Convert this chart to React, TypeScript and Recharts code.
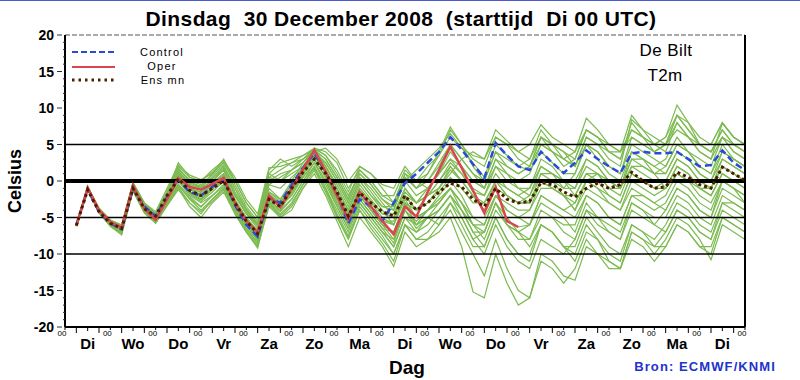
import { Line, LineChart, ReferenceLine, XAxis, YAxis } from 'recharts';

const HOURS = [6, 12, 18, 24, 30, 36, 42, 48, 54, 60, 66, 72, 78, 84, 90, 96, 102, 108, 114, 120, 126, 132, 138, 144, 150, 156, 162, 168, 174, 180, 186, 192, 198, 204, 210, 216, 222, 228, 234, 240, 246, 252, 258, 264, 270, 276, 282, 288, 294, 300, 306, 312, 318, 324, 330, 336, 342, 348, 354, 360];
const X_TICKS = [0, 6, 12, 18, 24, 30, 36, 42, 48, 54, 60, 66, 72, 78, 84, 90, 96, 102, 108, 114, 120, 126, 132, 138, 144, 150, 156, 162, 168, 174, 180, 186, 192, 198, 204, 210, 216, 222, 228, 234, 240, 246, 252, 258, 264, 270, 276, 282, 288, 294, 300, 306, 312, 318, 324, 330, 336, 342, 348, 354, 360];
const DAY_NAMES = ['Di', 'Wo', 'Do', 'Vr', 'Za', 'Zo', 'Ma', 'Di', 'Wo', 'Do', 'Vr', 'Za', 'Zo', 'Ma', 'Di'];
const Y_TICKS = [-20, -19, -18, -17, -16, -15, -14, -13, -12, -11, -10, -9, -8, -7, -6, -5, -4, -3, -2, -1, 0, 1, 2, 3, 4, 5, 6, 7, 8, 9, 10, 11, 12, 13, 14, 15, 16, 17, 18, 19, 20];

const OPER = [
  -6.2, -0.9, -4.0, -5.6, -6.4, -0.6, -3.8, -5.3, -2.5, 0.4, -0.8, -1.2,
  -0.4, 0.4, -3.0, -5.5, -7.0, -2.0, -3.6, -1.0,
  1.6, 4.2, 1.3, -2.0, -5.2, -1.5, -3.5, -5.5,
  -7.3, -3.5, -4.9, -1.5, 1.5, 4.7, 1.8, -1.3,
  -4.4, -0.8, -5.5, -6.3,
];
const CONTROL = [
  -6.0, -1.2, -4.2, -5.8, -6.6, -1.0, -3.5, -4.8, -2.2, 0.2, -1.5, -2.0,
  -0.8, 0.3, -3.3, -6.0, -7.6, -2.3, -3.0, -0.5,
  1.8, 3.8, 1.2, -1.8, -5.8, -2.5, -3.5, -5.5,
  -3.0, -0.3, 1.0, 2.5, 4.0, 6.0, 4.3, 2.3,
  0.4, 5.2, 3.5, 2.0, 1.5, 4.0, 2.5, 1.1,
  2.5, 4.2, 3.0, 2.0, 1.1, 3.8, 4.0, 3.8,
  3.8, 4.0, 3.0, 2.0, 2.2, 4.2, 2.5, 1.5,
];
const ENS_MEAN = [
  -6.1, -1.2, -4.2, -5.8, -6.5, -1.0, -3.8, -4.8, -2.0, 0.3, -1.3, -2.0,
  -1.0, 0.0, -3.0, -5.5, -7.2, -2.5, -3.5, -1.0,
  1.2, 3.0, 1.0, -1.5, -4.8, -1.6, -3.0, -4.2,
  -4.8, -2.0, -4.0, -3.0, -1.5, -0.3, -0.8, -2.5,
  -3.5, -1.0, -2.5, -3.0, -2.8, -0.2, -0.5, -1.5,
  -2.2, -1.0, -0.3, -1.0, -0.5, 1.2, 0.0, -1.0,
  -0.8, 1.2, 0.5, -0.5, -1.0, 1.9, 1.0, 0.1,
];

// ensemble members (a subset of the plume)
const M01 = [-6, -1, -4, -5.5, -6.3, -0.5, -3.5, -5, -2, 1, -0.5, -1, 0, 1.5, -2, -4.5, -6, -1, -2.5, 0, 2.5, 4.5, 2, -1, -4, 0, -2, -3.5, -4, 0, 1.5, 3, 4.5, 6.5, 4.5, 2.5, 0.5, 5, 3.5, 2, 1.5, 4, 2.5, 1, 1, 5, 3, 1, 0, 4, 3, 2, 3, 6, 4, 2, 1, 5, 3, 2];
const M02 = [-6, -1, -4.2, -5.8, -6.6, -1, -4, -5.4, -2.8, 0, -1.5, -2.5, -1, 0, -3.5, -6, -7.5, -2.5, -4, -1.5, 1, 3.5, 1, -2.5, -5.5, -1.5, -3.5, -5.5, -6, -2, -4, -2, 0, 2, 0, -2, -3, 0, -2, -3, -3, 0, -1, -2, -4, 0, -1, -3, -4, -1, -2, -3, -2, 1, 0, -2, -3, 0, -1, -2];
const M03 = [-6, -1, -3.8, -5.5, -6.5, -0.6, -3.2, -4.8, -1.5, 1.8, 0, -1, 1, 3, 0, -3, -5, 1, 0, 1.5, 3, 4, 4.5, 3, 0, 2, 1, -0.5, -1, 2, 0, -1, 1, 3, 2, 0, -1, 3, 1, 0, 1, 5, 4, 2, 3, 7, 6, 4, 3, 8, 6, 5, 6, 10.4, 8, 5, 4, 7, 5, 4];
const M04 = [-6, -1, -4.2, -6, -7, -1, -4, -5.5, -3, -0.5, -2.5, -4, -2.5, -1, -4, -6.5, -8.5, -3, -4.5, -3, -0.5, 2, -1, -4, -7, -3, -5, -7, -9, -5, -7, -6, -4, -2, -4, -7, -9, -5, -8, -10, -11, -6, -7, -9, -10, -6, -8, -11, -12, -7, -8, -10, -8, -5, -6, -8, -10.8, -6, -7, -8];
const M05 = [-6, -1, -4.2, -6.2, -7.4, -1.2, -4.2, -5.6, -3.2, -1, -3.5, -5, -3, -1.5, -4.5, -7, -9, -3.5, -5, -3.5, -1, 1.5, -1.5, -5, -8, -4, -6.5, -8.5, -11, -6, -8, -8, -6, -4, -7, -10, -13, -8, -12, -15, -16, -10, -11, -13, -13.6, -9, -10, -12, -12, -8, -9, -11, -9, -6, -7, -9, -10, -5, -6, -7];
const M06 = [-6, -0.8, -3.8, -5.4, -6.2, -0.3, -3, -4.5, -1.5, 2.5, 0.5, 0, 1.5, 2.8, 0.5, -2.5, -4.5, 1.8, 2, 2.5, 3.5, 4.5, 4, 2.5, -1, 1.5, 0, -2, -3, 1, -1, 0, 2.5, 5, 3, 1, 0, 4, 2, 1, 2, 6, 5, 3, 2, 6, 5, 3, 2, 8.4, 7, 5, 4, 8, 6, 4, 3, 7.9, 6, 5];
const M07 = [-6, -1, -4, -5.6, -6.6, -0.8, -3.8, -5.4, -2.5, 0.5, -1.5, -2, -1, 0.5, -3, -5.5, -7.5, -2, -3, -1, 1, 3, 0.5, -3, -6, -2.5, -4.5, -6.5, -7, -3, -6, -5, -3, -1, -4, -7, -7, -3, -6, -8, -8, -4, -5, -7, -8, -4, -6, -7, -8, -4, -5, -6, -4, -1, -2, -4, -5, -1, -2, -3];
const M08 = [-6, -1, -4, -5.8, -6.8, -1, -4, -5.5, -2.8, 0, -2, -3, -2, -0.5, -3.5, -6, -8, -2.5, -3.5, -1.5, 0.5, 2.5, 0, -3.5, -6.5, -3, -5, -7, -8, -4, -6, -4, -2, 0, -2, -5, -6, -2, -4, -5, -4, 0, -1, -2, -2, 1, 0, -2, -3, 1, 0, -1, 0, 3, 2, 0, -1, 2, 1, 0];
const M09 = [-6, -0.8, -3.8, -5.4, -6, -0.2, -3, -4.2, -1, 2.2, 0.8, 0.2, 1, 2.5, 0, -3, -5, 1.5, 3, 2, 3, 4.5, 3.5, 1, -2, 1, -0.5, -2.5, -4, 0.5, -1, 1, 3.5, 7, 5, 3, 2, 6, 5, 4, 5, 7.7, 6, 5, 4, 8.6, 7, 5, 4, 7, 6, 4, 5, 8, 6, 4, 3, 6, 4, 3];
const M10 = [-6, -1, -4, -5.6, -6.4, -0.8, -3.6, -5, -2.2, 1, -1, -2, -0.5, 1, -2.5, -5, -7, -1.5, -2.5, -0.5, 1.5, 3.5, 1.5, -1.5, -4.5, -1, -3, -5, -6, -2.5, -5, -4, -3, -1, -3, -5, -5, -2, -3, -4, -4, -1, -1, -2, -4, -1, -2, -3, -4, 0, -1, -2, -1, 2, 1, -1, -2, 1, 0, -1];
const M11 = [-6, -1.2, -4.4, -6.2, -7.2, -1.4, -4.4, -5.8, -3.4, -1.2, -3, -4.5, -2.5, -1, -4.5, -7, -9.2, -3, -5, -4, -1, 1, -2, -5.5, -9, -5, -7, -9, -11.7, -7, -9, -8, -7, -5, -9, -15.2, -16, -10, -14, -17, -16, -11, -12, -14, -12, -8, -10, -11, -12, -7, -8, -9, -7, -4, -5, -7, -8, -4, -5, -6];
const M12 = [-6, -0.8, -3.8, -5.5, -6.2, -0.4, -3.2, -4.6, -1.8, 1.6, 0, -0.5, 0.5, 2, -1, -4, -6, 0, 1, 1.5, 2.5, 4, 2.5, 0, -3, 0.5, -1, -3, -5, -1, -3, -1, 1, 4, 2, 0, -1, 2, 1, -1, -2, 2, 1, -1, 1, 5, 4, 2, 1, 6, 5, 4, 5, 9, 7, 5, 4, 6, 4, 3];
const M13 = [-6, -1, -4, -5.6, -6.5, -0.7, -3.7, -5.1, -2.4, 0.6, -1.2, -1.8, -0.5, 0.8, -2.8, -5.3, -7, -1.8, -3, -1, 1.8, 4, 1.2, -2, -5, -1.5, -3.5, -5.5, -5.5, -2, -4, -3, -1.5, 0.5, -1, -3, -3, 0, -2, -3, -3, 0, 0, -1, -1, 2, 1, -1, -2, 2, 1, 0, 0, 3, 2, 0, -1, 3, 2, 1];
const M14 = [-6, -1, -4.1, -5.9, -6.9, -1.1, -4.1, -5.5, -3, -0.4, -2.2, -3.5, -2, -0.5, -4, -6.5, -8.5, -2.8, -4, -2.5, 0, 2, -1, -4.5, -7.5, -3.5, -5.5, -7.5, -10, -6, -8, -7, -5, -3, -6, -9, -9, -5, -8, -10, -10, -6, -7, -9, -9, -5, -7, -9, -10, -6, -7, -8, -6, -3, -4, -6, -7, -3, -4, -5];
const M15 = [-6, -0.9, -3.9, -5.5, -6.3, -0.5, -3.4, -4.9, -2, 1.2, -0.5, -1, 0, 1.5, -2, -4.5, -6.5, -0.5, -1, 0.5, 2, 4, 2, -1, -4, -0.5, -2.5, -4.5, -4.5, -1, -3, -2, 0, 2.5, 1, -1.5, -2, 2, 0, -1, -1, 3, 2, 0, 0, 3, 2, 0, -1, 4, 3, 1, 2, 5, 4, 2, 1, 4, 3, 2];
const M16 = [-6, -0.9, -4, -5.6, -6.4, -0.6, -3.8, -5.3, -2.5, 0.4, -0.8, -1.2, -0.4, 0.4, -3, -5.5, -7, -2, -3.6, -1, 1.6, 4.2, 1.3, -2, -5.2, -1.5, -3.5, -5.5, -7.3, -3.5, -4.9, -1.5, 1.5, 4.7, 1.8, -1.3, -4.4, -0.8, -5.5, -6.3, -6, -2, -3, -4, -3, 0, -1, -2, -3, 1, 0, -1, -1, 2, 1, -1, -2, 1, 0, -1];
const M17 = [-6, -0.8, -3.7, -5.3, -6.1, -0.3, -3.1, -4.4, -1.4, 2, 0.5, 0, 1.2, 2.6, -0.5, -3.5, -5.5, 1, 2.5, 3, 3.5, 4.3, 3, 0.5, -2.5, 1.5, 0, -2, -2, 1.5, 0, 1, 4, 7.4, 5, 2, 0, 4, 3, 2, 3, 7, 5, 4, 2, 6, 5, 4, 3, 7, 6, 5, 6, 9, 7, 5, 4, 7, 5, 4];
const M18 = [-6, -1, -4.1, -5.8, -6.7, -0.9, -3.9, -5.3, -2.7, 0.2, -1.8, -2.8, -1.5, 0, -3.5, -6, -8, -2.5, -3.5, -2, 0.5, 2.5, 0, -3, -6, -2.5, -4.5, -6.5, -8.5, -4, -6.5, -5, -4, -2, -5, -8, -7, -3, -6, -7, -6, -2, -3, -4, -5, -2, -3, -5, -6, -2, -3, -4, -3, 0, -1, -3, -4, 0, -1, -2];
const M19 = [-6, -1, -4, -5.7, -6.6, -0.9, -3.8, -5.2, -2.6, 0.3, -1.5, -2.5, -1, 0.2, -3.2, -5.8, -7.6, -2.2, -3.2, -1.5, 1, 3, 0.5, -2.5, -5.5, -2, -4, -6, -7, -3, -5, -4, -2.5, -1, -3, -6, -6, -2, -4, -5, -6, -3, -4, -5, -7, -3, -5, -6, -7, -3, -4, -5, -5, -2, -3, -5, -6, -2, -3, -4];
const M20 = [-6, -0.9, -3.9, -5.5, -6.3, -0.5, -3.5, -4.9, -2.1, 1.1, -0.3, -0.8, 0.5, 1.8, -1.5, -4, -6, 0.5, 0, 1, 2, 4, 2.5, 0, -3, 0.5, -1.5, -3.5, -3.5, 0, -2, -1, 1, 3, 1, -1, -2, 1, -1, -2, -1, 2, 1, 0, -1, 3, 2, 0, -1, 3, 2, 1, 1, 4, 3, 1, 0, 3, 2, 1];
const M21 = [-6, -1, -4, -5.6, -6.5, -0.7, -3.6, -5, -2.3, 0.8, -1, -1.6, -0.2, 1, -2.6, -5, -6.8, -1.5, -2.8, -0.5, 2, 4, 2, -0.5, -3.5, 0, -2, -4, -6, -2, -3, -2, -1, 1, 3, 4, 3, 6, 5, 3, 2, 5, 4, 3, 2, 5, 4, 2, 1, 5, 4, 3, 2, 5, 4, 3, 2, 6, 5, 4];
const M22 = [-6, -1.1, -4.2, -6, -6.9, -1.2, -4.2, -5.6, -3, -0.6, -2.4, -3.6, -2, -0.8, -3.8, -6.2, -8.2, -3, -4.2, -2.5, 0, 2.5, -0.5, -3.5, -6.5, -3, -5, -7, -9, -5, -6, -5, -6, -3, -5, -8, -10, -6, -9, -11, -12, -8, -9, -10, -8, -4, -5, -7, -8, -3, -4, -6, -7, -4, -5, -7, -8, -3, -3, -4];
const M23 = [-6, -0.9, -3.9, -5.4, -6.2, -0.4, -3.3, -4.7, -1.7, 1.5, 0.2, -0.3, 0.8, 2.2, -1, -3.8, -5.8, 0.5, 1.5, 2.5, 3, 4.5, 3.5, 1.5, -1.5, 2, 1, -1, -3, 1, 0, 2, 3.5, 6, 4.5, 3.5, 3, 7, 5.5, 4, 3, 6, 4, 3, 4, 7, 6, 5, 4, 6, 5, 4, 5, 7, 6, 5, 5, 8, 6, 5];
const M24 = [-6, -1, -4, -5.7, -6.7, -0.9, -3.9, -5.3, -2.7, 0.1, -1.7, -2.6, -1.2, 0.3, -3.3, -5.8, -7.8, -2.3, -3.4, -1.8, 0.8, 3, 0.5, -2.5, -5.8, -2, -4, -6, -8, -4, -5.5, -4, -3, -1, -3, -6, -8, -4, -6, -7, -8, -5, -5, -6, -6, -2, -3, -5, -6, -2, -2, -3, -4, -1, -2, -4, -5, 0, -1, -3];
const M25 = [-6, -1, -4, -5.6, -6.4, -0.7, -3.7, -5.2, -2.4, 0.5, -1.1, -1.5, -0.6, 0.6, -2.9, -5.4, -7.1, -1.8, -3.2, -1, 1.4, 3.8, 1.5, -1.5, -4.5, -1, -2.8, -4.5, -5, -1.5, -3, -2, -1, 1.5, 0, -2, -4, -1, -2, -3, -2, 1, 1, 0, -2, 1, 1, -1, -1, 2, 2, 1, -1, 1, 0, -1, -1, 2, 1, 0];
const M26 = [-6, -0.9, -3.9, -5.5, -6.3, -0.5, -3.4, -4.8, -1.9, 1.3, -0.2, -0.7, 0.3, 1.6, -1.8, -4.3, -6.2, -0.5, 0.5, 1.5, 2.5, 4.2, 3, 0.5, -2.5, 1, -0.5, -2.5, -3.5, 0.5, -1, 0, 2, 5, 3, 1, -1, 3, 2, 1, 2, 6, 5, 4, 3, 7, 6, 4, 4, 9, 7, 6, 5, 9, 8, 6, 5, 8, 6, 5];
const M27 = [-6, -1.1, -4.3, -6.1, -7.1, -1.3, -4.3, -5.7, -3.3, -0.8, -3, -4.2, -2.8, -1.2, -4.3, -6.8, -8.8, -3.3, -4.7, -3.2, -0.5, 1.8, -1.2, -4.8, -7.8, -4, -6, -8, -10, -6, -7, -5, -4, -2, -4, -6, -7, -3, -5, -7, -9, -6, -7, -9, -11, -7, -8, -10, -11, -6, -7, -9, -9, -6, -7, -9, -9, -5, -6, -7];
const M28 = [-6, -1, -4.1, -5.7, -6.6, -0.8, -3.9, -5.4, -2.6, 0.2, -1.6, -2.2, -0.8, 0.6, -3.1, -5.6, -7.4, -2.1, -3.3, -1.2, 1.2, 3.5, 1, -2, -5, -2, -4, -6, -7, -3, -4, -3, -1, 2, 0, -2, -4, 0, -1, -2, -3, 1, 0, -2, -3, 0, 1, 0, -1, 3, 3, 2, 1, 4, 3, 1, 0, 4, 3, 2];
const MEMBERS = [M01, M02, M03, M04, M05, M06, M07, M08, M09, M10, M11, M12, M13, M14, M15, M16, M17, M18, M19, M20, M21, M22, M23, M24, M25, M26, M27, M28];

const data = HOURS.map((h, i) => {
  const row: Record<string, number | null> = {
    h,
    control: CONTROL[i],
    ensmn: ENS_MEAN[i],
    oper: i < OPER.length ? OPER[i] : null,
  };
  MEMBERS.forEach((m, k) => {
    row['e' + k] = m[i];
  });
  return row;
});

const FONT = '"Liberation Sans", Arial, sans-serif';

function DayTick(props: any) {
  const { x, y, payload } = props;
  const h = payload.value;
  if (h % 24 === 0) {
    return (
      <g>
        <line x1={x} x2={x} y1={y} y2={y + 3} stroke="#000" />
        <text x={x - 3} y={y + 9} textAnchor="middle" fontSize={8} fontFamily={FONT} fill="#000">00</text>
      </g>
    );
  }
  if (h % 24 === 12) {
    return (
      <g>
        <line x1={x} x2={x} y1={y} y2={y + 4} stroke="#000" />
        <text x={x} y={y + 22} textAnchor="middle" fontSize={15} fontWeight="bold" fontFamily={FONT} fill="#000">
          {DAY_NAMES[(h - 12) / 24]}
        </text>
      </g>
    );
  }
  return <line x1={x} x2={x} y1={y} y2={y + 6} stroke="#000" />;
}

function LeftTick(props: any) {
  const { x, y, payload } = props;
  const v = payload.value;
  if (v % 5 !== 0) return <line x1={x} x2={x - 2} y1={y} y2={y} stroke="#333" />;
  return (
    <g>
      <line x1={x - 3} x2={x - 8} y1={y} y2={y} stroke="#333" />
      <text x={x - 11} y={y + 5} textAnchor="end" fontSize={14} fontWeight="bold" fontFamily={FONT} fill="#000">{v}</text>
    </g>
  );
}

function RightTick(props: any) {
  const { x, y, payload } = props;
  const v = payload.value;
  if (v % 5 !== 0) return <line x1={x} x2={x + 2} y1={y} y2={y} stroke="#333" />;
  return (
    <g>
      <line x1={x + 2} x2={x + 7} y1={y} y2={y} stroke="#333" />
      <text x={x + 13} y={y + 5} textAnchor="start" fontSize={14} fontWeight="bold" fontFamily={FONT} fill="#000">{v}</text>
    </g>
  );
}

export default function App() {
  return (
    <div style={{ position: 'absolute', left: 0, top: 0, width: 800, height: 380, background: '#fff', fontFamily: FONT }}>
      <LineChart width={800} height={380} data={data} margin={{ top: 35, right: 15, left: 25, bottom: 23 }}>
        <XAxis
          dataKey="h"
          type="number"
          domain={[0, 360]}
          ticks={X_TICKS}
          interval={0}
          height={30}
          tickSize={0}
          tickMargin={0}
          tick={DayTick}
          axisLine={{ stroke: '#000', strokeWidth: 2 }}
        />
        <YAxis
          yAxisId="left"
          domain={[-20, 20]}
          ticks={Y_TICKS}
          interval={0}
          width={40}
          tickSize={0}
          tickMargin={0}
          tick={LeftTick}
          axisLine={{ stroke: '#000', strokeWidth: 2 }}
        />
        <YAxis
          yAxisId="right"
          orientation="right"
          domain={[-20, 20]}
          ticks={Y_TICKS}
          interval={0}
          width={40}
          tickSize={0}
          tickMargin={0}
          tick={RightTick}
          axisLine={{ stroke: '#000', strokeWidth: 2 }}
        />
        {MEMBERS.map((_, k) => (
          <Line
            key={k}
            yAxisId="left"
            dataKey={'e' + k}
            type="linear"
            stroke="#7dbb52"
            strokeWidth={1.2}
            dot={false}
            isAnimationActive={false}
          />
        ))}
        <ReferenceLine yAxisId="left" y={20} stroke="#555" strokeDasharray="5 2" />
        <ReferenceLine yAxisId="left" y={5} stroke="#000" strokeWidth={1.5} />
        <ReferenceLine yAxisId="left" y={-5} stroke="#000" strokeWidth={1.5} />
        <ReferenceLine yAxisId="left" y={-10} stroke="#000" strokeWidth={1.5} />
        <ReferenceLine yAxisId="left" y={0} stroke="#000" strokeWidth={4} />
        <Line yAxisId="left" dataKey="control" type="linear" stroke="#2a4bd7" strokeWidth={2.5} strokeDasharray="7 4" dot={false} isAnimationActive={false} />
        <Line yAxisId="left" dataKey="oper" type="linear" stroke="#d9464f" strokeWidth={2.5} dot={false} isAnimationActive={false} />
        <Line yAxisId="left" dataKey="ensmn" type="linear" stroke="#4b1e00" strokeWidth={3} strokeDasharray="3 3" dot={false} isAnimationActive={false} />
      </LineChart>
      <svg width={800} height={380} style={{ position: 'absolute', left: 0, top: 0, pointerEvents: 'none' }}>
        <line x1={0} x2={800} y1={0.5} y2={0.5} stroke="#4a5bd0" strokeWidth={1} />
        <text x={401} y={26} textAnchor="middle" fontSize={21} fontWeight="bold" fontFamily={FONT} fill="#000" letterSpacing={0.4} style={{ whiteSpace: 'pre' }}>
          {'Dinsdag  30 December 2008  (starttijd  Di 00 UTC)'}
        </text>
        <line x1={72} x2={115} y1={52} y2={52} stroke="#2a4bd7" strokeWidth={2} strokeDasharray="6 3" />
        <line x1={72} x2={115} y1={67} y2={67} stroke="#d9464f" strokeWidth={2} />
        <line x1={72} x2={115} y1={80} y2={80} stroke="#4b1e00" strokeWidth={3} strokeDasharray="2.5 4" />
        <text x={162} y={56} textAnchor="middle" fontSize={11} letterSpacing={1.2} fontFamily={FONT} fill="#000">Control</text>
        <text x={162} y={70} textAnchor="middle" fontSize={11} letterSpacing={1.2} fontFamily={FONT} fill="#000">Oper</text>
        <text x={163} y={84} textAnchor="middle" fontSize={11} letterSpacing={1.2} fontFamily={FONT} fill="#000">Ens mn</text>
        <text x={666} y={56} textAnchor="middle" fontSize={17} letterSpacing={0.4} fontFamily={FONT} fill="#000">De Bilt</text>
        <text x={665} y={81} textAnchor="middle" fontSize={17} letterSpacing={0.4} fontFamily={FONT} fill="#000">T2m</text>
        <text x={0} y={0} transform="translate(21,181) rotate(-90)" textAnchor="middle" fontSize={18} fontWeight="bold" fontFamily={FONT} fill="#000">Celsius</text>
        <text x={407} y={374} textAnchor="middle" fontSize={19} fontWeight="bold" fontFamily={FONT} fill="#000">Dag</text>
        <text x={776} y={371} textAnchor="end" fontSize={13} fontWeight="bold" letterSpacing={1.1} fontFamily={FONT} fill="#2233cc">Bron: ECMWF/KNMI</text>
      </svg>
    </div>
  );
}
